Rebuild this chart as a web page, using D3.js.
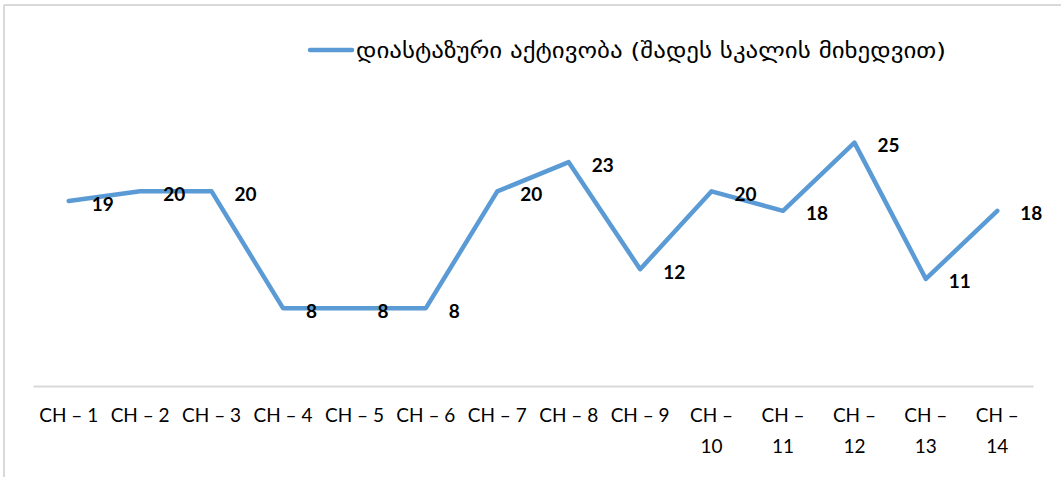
<!DOCTYPE html>
<html>
<head>
<meta charset="utf-8">
<script src="https://cdn.jsdelivr.net/npm/d3@7"></script>
<style>
  html, body { margin: 0; padding: 0; background: #fff; }
  svg { display: block; }
</style>
</head>
<body>
<svg id="chart" width="1061" height="477"></svg>
<script>
const categories = ["CH – 1","CH – 2","CH – 3","CH – 4","CH – 5","CH – 6","CH – 7","CH – 8","CH – 9","CH – 10","CH – 11","CH – 12","CH – 13","CH – 14"];
const values = [19, 20, 20, 8, 8, 8, 20, 23, 12, 20, 18, 25, 11, 18];
const seriesName = "დიასტაზური აქტივობა (შადეს სკალის მიხედვით)";
const yDomain = [0, 30];

const W = 1061, H = 477;
const svg = d3.select("#chart");
const m = { left: 33, right: 28, top: 94, bottom: 91 };
const plotW = W - m.left - m.right;
const plotH = H - m.top - m.bottom;

// chart border (cropped: top and left visible)
svg.append("line").attr("x1", 4).attr("x2", W).attr("y1", 5).attr("y2", 5)
  .attr("stroke", "#d9d9d9").attr("stroke-width", 2);
svg.append("line").attr("x1", 4).attr("x2", 4).attr("y1", 5).attr("y2", H)
  .attr("stroke", "#d9d9d9").attr("stroke-width", 2);

const x = d3.scaleBand().domain(categories).range([m.left, m.left + plotW]).padding(0);
const y = d3.scaleLinear().domain(yDomain).range([m.top + plotH, m.top]);

// x axis
const xAxis = d3.axisBottom(x).tickSize(0).tickPadding(0);
const gx = svg.append("g").attr("transform", `translate(0,${y(0)})`).call(xAxis);
gx.select(".domain").attr("stroke", "#d9d9d9").attr("stroke-width", 2);
gx.selectAll(".tick text")
  .attr("font-family", "Lato, 'Open Sans', sans-serif")
  .attr("font-size", 19)
  .attr("fill", "#000")
  .attr("dy", null)
  .attr("y", 36)
  .each(function(d) {
    const t = d3.select(this);
    const maxW = x.bandwidth() - 6;
    if (this.getComputedTextLength() > maxW) {
      const words = d.split(" ");
      const last = words.pop();
      t.text(null);
      t.append("tspan").attr("x", 0).attr("y", 36).text(words.join(" "));
      t.append("tspan").attr("x", 0).attr("y", 67).text(last);
    }
  });

// line
const line = d3.line()
  .x((d, i) => x(categories[i]) + x.bandwidth() / 2)
  .y(d => y(d));
svg.append("path").datum(values)
  .attr("d", line)
  .attr("fill", "none")
  .attr("stroke", "#5b9bd5")
  .attr("stroke-width", 4.5)
  .attr("stroke-linejoin", "round")
  .attr("stroke-linecap", "round");

// data labels (right)
svg.append("g").selectAll("text").data(values).join("text")
  .attr("x", (d, i) => x(categories[i]) + x.bandwidth() / 2 + 23)
  .attr("y", d => y(d) + 2)
  .attr("text-anchor", "start")
  .attr("dominant-baseline", "central")
  .attr("font-family", "Lato, 'Open Sans', sans-serif")
  .attr("font-weight", "bold")
  .attr("font-size", 19)
  .attr("fill", "#000")
  .text(d => d);

// legend
const lg = svg.append("g");
lg.append("line").attr("x1", 310).attr("x2", 352).attr("y1", 50).attr("y2", 50)
  .attr("stroke", "#5b9bd5").attr("stroke-width", 4.5).attr("stroke-linecap", "round");
lg.append("text").attr("x", 356).attr("y", 50)
  .attr("dominant-baseline", "central")
  .attr("font-family", "'DejaVu Sans', sans-serif")
  .attr("font-size", 22)
  .attr("textLength", 590)
  .attr("lengthAdjust", "spacingAndGlyphs")
  .attr("fill", "#000")
  .text(seriesName);
</script>
</body>
</html>
